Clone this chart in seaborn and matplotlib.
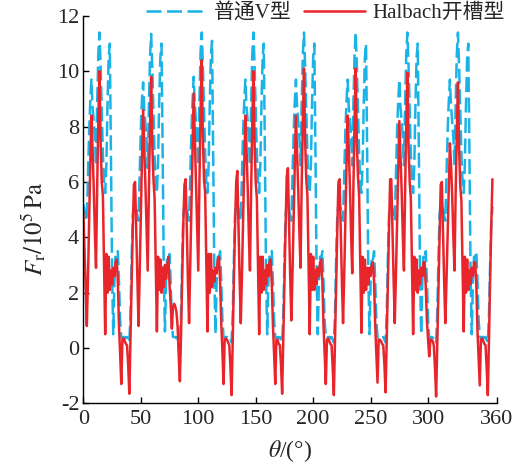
import numpy as np
import pandas as pd
import matplotlib
matplotlib.use("Agg")
import matplotlib.pyplot as plt
import seaborn as sns

# ---- data (radial force density, 1 degree steps, 8 electrical periods) ----
red_p1 = [4.9, 3.6, 2.2, 0.8, 2.5, 4.6, 6.6, 8.4, 7.2, 5.8, 4.2, 2.9, 5.8, 8.2, 10.0, 7.5, 6.0, 5.5, 3.0, 0.5,
          3.4, 2.0, 3.3, 2.1, 2.8, 2.3, 2.9, 2.6, 3.1, 3.2, 2.4, 0.8, -0.2, -1.3, 0.3, 0.35, 0.25, 0.15, 0.1, -0.6,
          -1.65, 0.3, 2.4, 4.3, 5.9]
red_p2 = [6.0, 4.3, 2.5, 0.8, 2.7, 4.8, 6.8, 8.6, 7.3, 5.9, 4.3, 2.8, 5.6, 8.0, 9.8, 7.3, 6.1, 5.4, 2.9, 0.6,
          3.3, 2.1, 3.2, 2.0, 2.9, 2.2, 3.0, 2.5, 3.0, 3.3, 2.3, 1.6, 0.7, 1.5, 1.6, 1.5, 1.3, 0.8, -0.3, -1.2,
          0.5, 2.6, 4.5, 5.9]
red_p3 = [6.1, 4.4, 2.4, 0.9, 3.0, 5.2, 7.4, 9.2, 7.6, 6.0, 4.4, 2.8, 6.0, 8.5, 10.4, 7.6, 6.1, 5.6, 3.1, 0.6,
          3.4, 2.0, 3.4, 2.2, 2.8, 2.4, 2.9, 2.7, 3.2, 3.3, 2.4, 0.9, -0.1, -1.3, 0.3, 0.35, 0.3, 0.2, 0.1, -0.7,
          -1.7, 0.3, 2.5, 4.4, 6.0]
red_p4 = [6.4, 4.5, 2.5, 0.9, 2.6, 4.6, 6.6, 8.4, 7.2, 5.8, 4.1, 2.8, 5.7, 8.1, 10.0, 7.4, 6.0, 5.4, 2.9, 0.5,
          3.3, 2.0, 3.3, 2.1, 2.8, 2.3, 3.0, 2.6, 3.1, 3.2, 2.3, 0.8, -0.2, -1.3, 0.3, 0.3, 0.15, 0.1, -0.6, -1.65,
          0.3, 2.4, 4.4, 6.2]
red_p5 = [6.5, 4.5, 2.6, 1.0, 2.7, 4.7, 6.6, 8.4, 7.1, 5.7, 4.2, 2.9, 5.9, 8.2, 10.1, 7.5, 6.1, 5.5, 3.0, 0.5,
          3.4, 2.1, 3.3, 2.1, 2.8, 2.3, 2.9, 2.6, 3.1, 3.2, 2.4, 0.8, -0.2, -1.3, 0.3, 0.35, 0.25, 0.15, 0.1, -0.7,
          -1.7, 0.3, 2.4, 4.3, 6.0]
red_p6 = [6.1, 4.3, 2.4, 0.9, 2.6, 4.6, 6.6, 8.4, 7.2, 5.8, 4.1, 2.7, 5.8, 8.2, 10.1, 7.4, 6.2, 5.5, 3.0, 0.55,
          3.3, 2.0, 3.2, 2.1, 2.9, 2.3, 2.9, 2.6, 3.0, 3.1, 2.4, 0.8, -0.2, -1.25, 0.3, 0.3, 0.25, 0.15, 0.1, -0.6,
          -1.6, 0.3, 2.4, 4.3, 6.1]
red_p7 = [6.1, 4.3, 2.5, 0.9, 2.6, 4.5, 6.4, 8.2, 7.0, 5.7, 4.1, 2.8, 5.7, 8.0, 9.95, 7.3, 6.0, 5.4, 2.9, 0.5,
          3.3, 2.1, 3.2, 2.0, 2.8, 2.3, 2.9, 2.6, 3.1, 3.1, 2.2, 1.0, 0.3, -0.3, 0.3, 0.3, 0.25, 0.1, -0.7, -1.75,
          0.2, 2.3, 4.2, 5.9]
red_p8 = [6.0, 4.2, 2.4, 0.9, 2.4, 4.1, 5.8, 7.4, 6.6, 5.5, 4.0, 2.8, 5.6, 7.8, 9.6, 7.2, 5.9, 5.3, 2.9, 0.6,
          3.3, 2.0, 3.2, 2.1, 2.8, 2.3, 2.9, 2.6, 3.1, 3.1, 2.3, 0.6, -0.4, -1.35, 0.3, 0.35, 0.25, 0.15, 0.1, -0.7,
          -1.7, 0.3, 2.5, 4.4, 6.1]

blue_p1 = [5.2, 5.0, 4.8, 4.6, 6.2, 7.8, 8.9, 9.7, 8.7, 8.2, 7.6, 6.6, 8.8, 10.6, 11.4, 10.2, 8.6, 7.0, 6.0, 5.6,
           6.6, 8.8, 10.5, 11.0, 7.0, 2.6, 0.5, 2.4, 3.3, 3.2, 3.5, 2.4, 1.0, 0.4, 0.35, 0.4, 0.4, 0.35, 0.4, 0.3,
           0.2, 1.2, 3.2, 4.8, 5.2]
blue_p2 = [5.2, 5.0, 4.8, 4.6, 6.3, 7.9, 9.0, 9.6, 8.6, 8.1, 7.5, 6.5, 8.7, 10.5, 11.35, 10.1, 8.5, 6.9, 6.0, 5.6,
           6.7, 8.9, 10.5, 11.0, 7.1, 2.7, 0.6, 2.5, 3.3, 3.2, 3.4, 2.3, 1.0, 0.4, 0.4, 0.4, 0.35, 0.4, 0.3, 0.2,
           1.2, 3.2, 4.8, 5.2]
blue_p3 = [5.2, 5.0, 4.8, 4.6, 6.2, 7.8, 8.9, 9.8, 8.8, 8.2, 7.6, 6.6, 8.9, 10.7, 11.4, 10.2, 8.6, 7.0, 6.0, 5.6,
           6.6, 8.8, 10.6, 11.1, 7.0, 2.6, 0.5, 2.4, 3.3, 3.2, 3.5, 2.4, 1.0, 0.4, 0.35, 0.4, 0.4, 0.35, 0.4, 0.3,
           0.2, 1.2, 3.2, 4.8, 5.2]
blue_p4 = [5.2, 5.0, 4.8, 4.6, 6.2, 7.8, 8.9, 9.7, 8.7, 8.2, 7.6, 6.6, 8.8, 10.6, 11.4, 10.2, 8.6, 7.0, 6.0, 5.6,
           6.6, 8.8, 10.5, 11.0, 7.0, 2.6, 0.5, 2.4, 3.3, 3.2, 3.5, 2.4, 1.0, 0.4, 0.35, 0.4, 0.35, 0.4, 0.3, 0.2,
           1.2, 3.2, 4.8, 5.2]
blue_p5 = [5.2, 5.0, 4.8, 4.6, 6.2, 7.8, 8.9, 9.7, 8.7, 8.2, 7.6, 6.6, 8.8, 10.6, 11.4, 10.2, 8.6, 7.0, 6.0, 5.6,
           6.6, 8.8, 10.5, 11.0, 7.0, 2.6, 0.5, 2.4, 3.3, 3.2, 3.5, 2.4, 1.0, 0.4, 0.35, 0.4, 0.4, 0.35, 0.4, 0.3,
           0.2, 1.2, 3.2, 4.8, 5.2]
blue_p6 = [5.2, 5.0, 4.8, 4.6, 6.2, 7.8, 8.9, 9.7, 8.7, 8.2, 7.6, 6.6, 8.8, 10.6, 11.4, 10.2, 8.6, 7.0, 6.0, 5.6,
           6.6, 8.8, 10.5, 11.0, 7.0, 2.6, 0.5, 2.4, 3.3, 3.2, 3.5, 2.4, 1.0, 0.4, 0.35, 0.4, 0.4, 0.35, 0.4, 0.3,
           0.2, 1.2, 3.2, 4.8, 5.2]
blue_p7 = [5.2, 5.0, 4.8, 4.6, 6.2, 7.8, 8.9, 9.7, 8.7, 8.2, 7.6, 6.6, 8.8, 10.6, 11.4, 10.2, 8.6, 7.0, 6.0, 5.6,
           6.6, 8.8, 10.5, 11.0, 7.0, 2.6, 0.5, 2.4, 3.3, 3.2, 3.5, 2.4, 1.0, 0.4, 0.35, 0.4, 0.35, 0.4, 0.3, 0.2,
           1.2, 3.2, 4.8, 5.2]
blue_p8 = [5.2, 5.0, 4.8, 4.6, 6.2, 7.8, 8.9, 9.7, 8.7, 8.2, 7.6, 6.6, 8.8, 10.6, 11.4, 10.2, 8.6, 7.0, 6.0, 5.6,
           6.6, 8.8, 10.5, 11.0, 7.0, 2.6, 0.5, 2.4, 3.3, 3.2, 3.5, 2.4, 1.0, 0.4, 0.35, 0.4, 0.4, 0.35, 0.4, 0.3,
           0.2, 1.2, 3.0, 4.5, 5.1]

series_names = ["普通V型", "Halbach开槽型"]
xticks = [0, 50, 100, 150, 200, 250, 300, 360]
yticks = [-2, 0, 2, 4, 6, 8, 10, 12]

red = red_p1 + red_p2 + red_p3 + red_p4 + red_p5 + red_p6 + red_p7 + red_p8
blue = blue_p1 + blue_p2 + blue_p3 + blue_p4 + blue_p5 + blue_p6 + blue_p7 + blue_p8
theta = np.arange(len(red))

df = pd.DataFrame({"theta": theta, "blue": blue, "red": red})

# ---- style ----
sns.set_style("ticks")
plt.rcParams["font.family"] = ["Liberation Serif", "Noto Sans CJK SC"]
plt.rcParams["mathtext.fontset"] = "stix"
plt.rcParams["xtick.direction"] = "in"
plt.rcParams["ytick.direction"] = "in"

fig = plt.figure(figsize=(5.31, 4.68), dpi=100)
ax = fig.add_axes([0.157, 0.138, 0.779, 0.828])

sns.lineplot(data=df, x="theta", y="blue", ax=ax, color="#1BB3E6", lw=1.8,
             label=series_names[0], sort=False)
sns.lineplot(data=df, x="theta", y="red", ax=ax, color="#E8252B", lw=1.8,
             label=series_names[1], sort=False)
ax.lines[0].set_dashes([6, 2.2])

ax.set_xlim(0, 360)
ax.set_ylim(-2, 12)
ax.set_xticks(xticks)
ax.set_yticks(yticks)
ax.set_xticklabels([str(v) for v in xticks], fontsize=16)
ax.set_yticklabels([str(v) for v in yticks], fontsize=16)
ax.tick_params(length=4, width=1, color="black")
ax.tick_params(axis="x", pad=5)
ax.tick_params(axis="y", pad=3)
for s in ["top", "right"]:
    ax.spines[s].set_visible(False)
for s in ["left", "bottom"]:
    ax.spines[s].set_linewidth(1.0)
    ax.spines[s].set_color("black")

ax.set_xlabel(r"$\theta$/(°)", fontsize=17)
ax.set_ylabel(r"$F_{\mathrm{r}}/10^{5}\,\mathrm{Pa}$", fontsize=18)
ax.xaxis.set_label_coords(0.5, -0.09)
ax.yaxis.set_label_coords(-0.085, 0.45)

leg = ax.legend(loc="center", bbox_to_anchor=(0.585, 1.007), ncol=2, frameon=False,
                handlelength=2.9, handletextpad=0.35, columnspacing=0.6,
                prop={"family": ["Liberation Serif", "Noto Sans CJK SC"], "size": 15})

fig.savefig("out.png", dpi=100)
